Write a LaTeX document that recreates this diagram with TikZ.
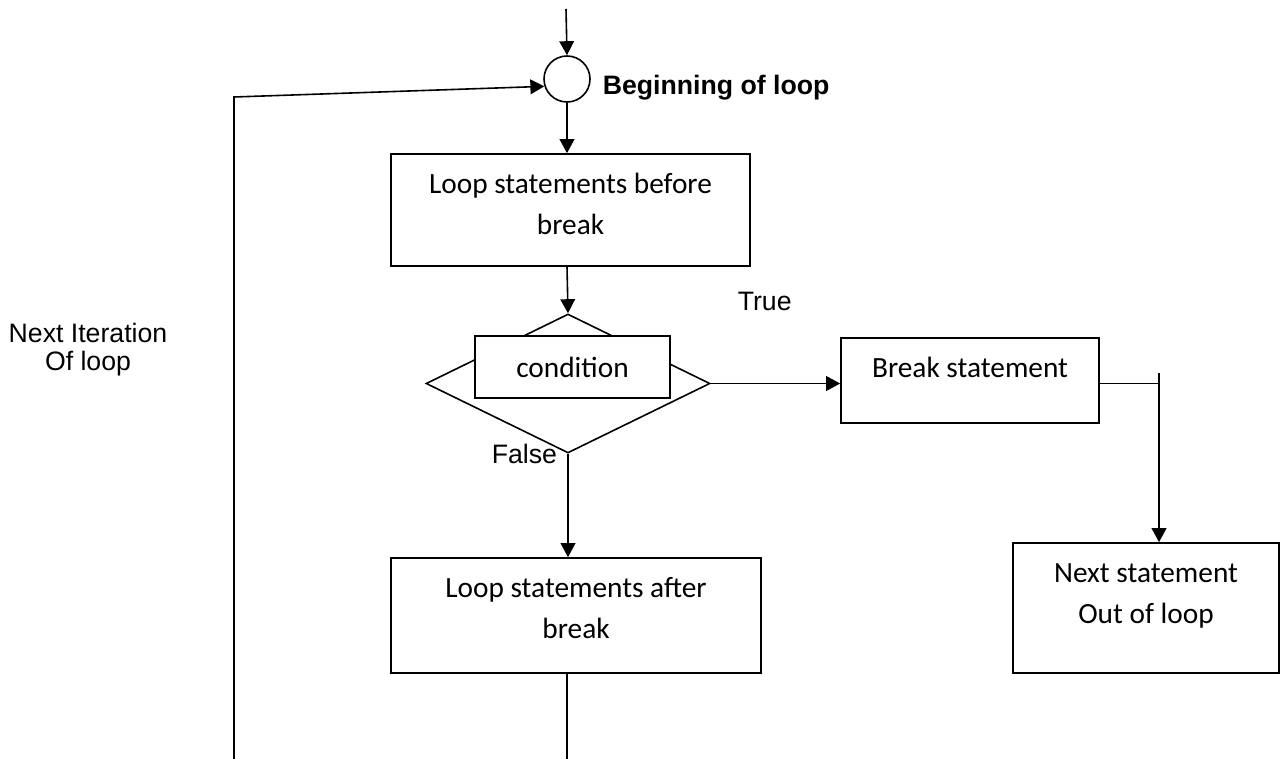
\documentclass[tikz,border=0pt]{standalone}
\usepackage{fontspec}
\setmainfont{Carlito}
\newfontfamily\arialfont{Liberation Sans}
\usetikzlibrary{arrows.meta,positioning,shapes.geometric}

\begin{document}
\begin{tikzpicture}[x=0.75pt,y=-0.75pt,line width=1.2pt,
  box/.style={draw,fill=white,inner sep=0pt},
  txt/.style={inner sep=0pt,align=center,font=\fontsize{22}{31}\selectfont},
  lbl/.style={inner sep=0pt,font=\arialfont\fontsize{20}{21.2}\selectfont},
  arr/.style={-{Triangle[length=10.5pt,width=11pt]}}]
\useasboundingbox (0,0) rectangle (1280,759);
\node[circle,draw,minimum size=34.5pt,inner sep=0pt] (begin) at (567,79) {};
\node[lbl,anchor=base west] (beginlbl) at (602,95) {\bfseries Beginning of loop};
\node[box,minimum width=269.25pt,minimum height=84pt] (before) at (570.5,210) {};
\node[txt,below=7.9pt of before.north] (beforetxt) {\strut Loop statements before\\break};
\node[diamond,draw,minimum width=213pt,minimum height=104.25pt,inner sep=0pt] (dec) at (568,383.5) {};
\node[box,txt,minimum width=146.25pt,minimum height=46.5pt] (cond) at (572.5,367) {condition};
\node[box,minimum width=193.5pt,minimum height=63.75pt] (brk) at (970,380.5) {};
\node[txt,below=7.9pt of brk.north] (brktxt) {\strut Break statement};
\node[box,minimum width=199.5pt,minimum height=97.5pt] (nxt) at (1146,608) {};
\node[txt,below=7.9pt of nxt.north] (nxttxt) {\strut Next statement\\Out of loop};
\node[box,minimum width=277.5pt,minimum height=86.25pt] (aft) at (576,615.5) {};
\node[txt,below=7.9pt of aft.north] (afttxt) {\strut Loop statements after\\break};
\node[lbl,anchor=base west] (truelbl) at (737,310) {True};
\node[lbl,anchor=base west] (falselbl) at (491,463) {False};
\node[lbl,align=center] (iterlbl) at (88,349.5) {Next Iteration\\Of loop};
\coordinate (entry) at (566,9);
\coordinate (ltop) at (234,97);
\coordinate (lbot) at (234,759);
\coordinate (jn) at (1159,373);
\coordinate (aftend) at (567,759);
\draw[arr] (entry) -- (begin.north);
\draw[arr] (lbot) -- (ltop) -- (begin.198);
\draw[arr] (begin.south) -- (begin.south |- before.north);
\draw[arr] (before.south -| begin.south) -- (dec.north);
\draw[arr] (dec.east) -- (dec.east -| brk.west);
\draw (brk.east |- dec.east) -- (dec.east -| jn);
\draw[arr] (jn) -- (jn |- nxt.north);
\draw[arr] (dec.south) -- (dec.south |- aft.north);
\draw (aft.south -| aftend) -- (aftend);
\end{tikzpicture}
\end{document}
